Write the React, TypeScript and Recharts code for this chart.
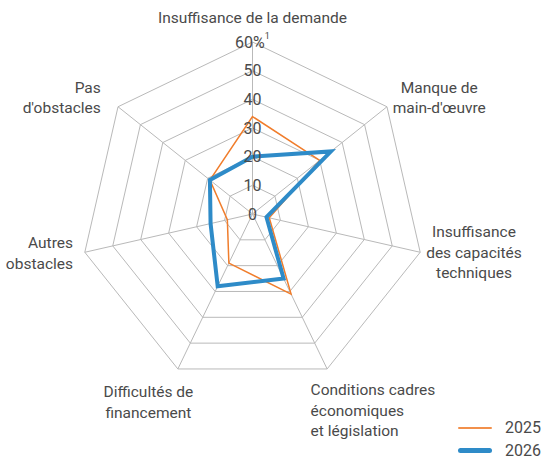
import React from 'react';
import { RadarChart, Radar, PolarGrid, PolarAngleAxis, PolarRadiusAxis, Legend } from 'recharts';

// axes, clockwise from the top
const categories = [
  'Insuffisance de la demande',
  "Manque de main-d'œuvre",
  'Insuffisance des capacités techniques',
  'Conditions cadres économiques et législation',
  'Difficultés de financement',
  'Autres obstacles',
  "Pas d'obstacles",
];
const categoryLines = [
  ['Insuffisance de la demande'],
  ['Manque de', "main-d'œuvre"],
  ['Insuffisance', 'des capacités', 'techniques'],
  ['Conditions cadres', 'économiques', 'et législation'],
  ['Difficultés de', 'financement'],
  ['Autres', 'obstacles'],
  ['Pas', "d'obstacles"],
];
const values2025 = [34, 30, 6, 31, 19, 9, 19];
const values2026 = [20, 35, 5, 25, 28, 15, 19];
const radiusTicks = [0, 10, 20, 30, 40, 50, 60];
const seriesNames = ['2025', '2026'];

const data = categories.map((c, i) => ({
  category: c,
  s2025: values2025[i],
  s2026: values2026[i],
}));

const ORANGE = '#f07d2c';
const BLUE = '#2e8bc8';
const TEXT = '#4a4a4a';
const FONT = 'Roboto, "Liberation Sans", sans-serif';

// label placement relative to the tick point the library gives
const labelLayout = [
  { anchor: 'middle', dx: 0, dy: -11 },
  { anchor: 'middle', dx: 46, dy: -9 },
  { anchor: 'middle', dx: 46, dy: -17 },
  { anchor: 'start', dx: -20, dy: 19 },
  { anchor: 'middle', dx: -26, dy: 21 },
  { anchor: 'end', dx: -4, dy: -6 },
  { anchor: 'end', dx: -11, dy: -9 },
];

const AngleTick = (props: any) => {
  const { x, y, payload } = props;
  const i = categories.indexOf(payload.value);
  const lay = labelLayout[i];
  const lines = categoryLines[i];
  return (
    <text x={x + lay.dx} y={y + lay.dy} textAnchor={lay.anchor} fill={TEXT} fontSize={15.5} fontFamily={FONT}>
      {lines.map((l, k) => (
        <tspan key={k} x={x + lay.dx} dy={k === 0 ? 0 : 20.5}>{l}</tspan>
      ))}
    </text>
  );
};

const RadiusTick = (props: any) => {
  const { x, y, payload } = props;
  const isTop = payload.value === radiusTicks[radiusTicks.length - 1];
  return (
    <text x={x} y={y} textAnchor="middle" dominantBaseline="central" fill={TEXT} fontSize={16} fontFamily={FONT}>
      {isTop ? '60%' : payload.value}
      {isTop && <tspan fontSize={9} dy={-6}>1</tspan>}
    </text>
  );
};

const LegendContent = () => (
  <div style={{ fontFamily: FONT, fontSize: 16, color: TEXT }}>
    {seriesNames.map((name, i) => (
      <div key={name} style={{ display: 'flex', alignItems: 'center', height: 23 }}>
        <div style={{ width: 34, height: i === 0 ? 2 : 5, borderRadius: 3, background: i === 0 ? ORANGE : BLUE, opacity: i === 0 ? 0.85 : 1 }} />
        <span style={{ marginLeft: 13 }}>{name}</span>
      </div>
    ))}
  </div>
);

export default function App() {
  return (
    <div style={{ position: 'absolute', left: 0, top: 0, width: 544, height: 460, background: '#fff' }}>
      <RadarChart width={544} height={460} data={data} cx={252.5} cy={214} outerRadius={172} startAngle={90} endAngle={-270}>
        <PolarGrid gridType="polygon" stroke="#b9b9b9" strokeWidth={1} />
        <PolarAngleAxis dataKey="category" tick={<AngleTick />} tickLine={false} axisLine={false} />
        <PolarRadiusAxis angle={90} domain={[0, 60]} ticks={radiusTicks} tickCount={7} tick={<RadiusTick />} axisLine={false} tickLine={false} />
        <Radar name={seriesNames[0]} dataKey="s2025" stroke={ORANGE} strokeWidth={1.5} fill="none" fillOpacity={0} dot={false} isAnimationActive={false} />
        <Radar name={seriesNames[1]} dataKey="s2026" stroke={BLUE} strokeWidth={4} fill="none" fillOpacity={0} dot={false} isAnimationActive={false} />
        <Legend content={<LegendContent />} wrapperStyle={{ position: 'absolute', left: 458, top: 416, width: 86 }} />
      </RadarChart>
    </div>
  );
}
